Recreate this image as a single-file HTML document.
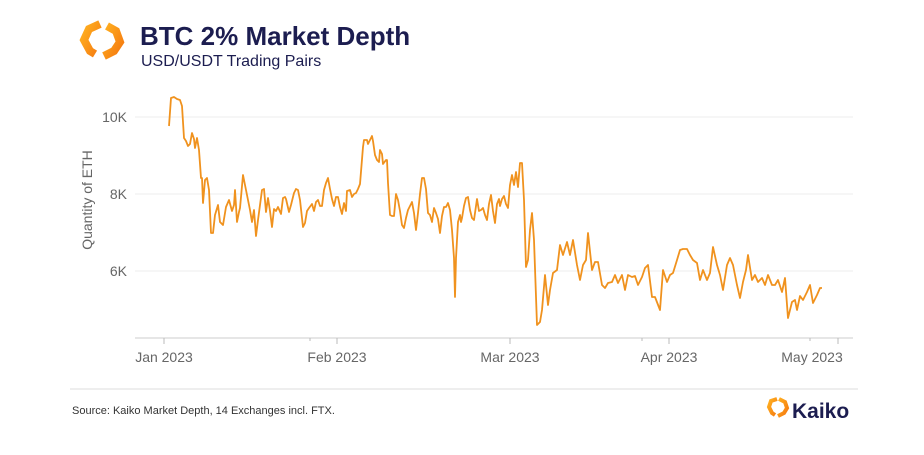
<!DOCTYPE html>
<html><head><meta charset="utf-8"><style>
body{margin:0;background:#fff;width:924px;height:450px;overflow:hidden;font-family:"Liberation Sans",sans-serif}
</style></head><body>
<svg width="924" height="450" xmlns="http://www.w3.org/2000/svg" font-family="Liberation Sans, sans-serif">
<defs><linearGradient id="og" x1="0" y1="0" x2="1" y2="1"><stop offset="0" stop-color="#ffb020"/><stop offset="1" stop-color="#f57a10"/></linearGradient></defs>
<g fill="none" stroke="url(#og)" stroke-width="8" stroke-linejoin="miter">
<polyline points="100,24 89,29 84,40 90,51 95,54"/>
<polyline points="107,26 116,31 120,42 114,51 104,56"/>
</g>
<text x="140" y="45" font-size="26" font-weight="bold" fill="#1c1d50">BTC 2% Market Depth</text>
<text x="141" y="66" font-size="16" fill="#1c1d50">USD/USDT Trading Pairs</text>
<g stroke="#eeeeee" stroke-width="1">
<line x1="135" y1="117" x2="853" y2="117"/>
<line x1="135" y1="194" x2="853" y2="194"/>
<line x1="135" y1="271" x2="853" y2="271"/>
</g>
<line x1="135" y1="338" x2="853" y2="338" stroke="#ccc"/>
<g stroke="#bbb">
<line x1="164" y1="338" x2="164" y2="344"/><line x1="337" y1="338" x2="337" y2="344"/>
<line x1="510" y1="338" x2="510" y2="344"/><line x1="669" y1="338" x2="669" y2="344"/>
<line x1="838" y1="338" x2="838" y2="344"/>
<line x1="310" y1="338" x2="310" y2="341"/><line x1="642" y1="338" x2="642" y2="341"/><line x1="810" y1="338" x2="810" y2="341"/>
</g>
<g font-size="14" fill="#666" text-anchor="end">
<text x="127" y="122">10K</text><text x="127" y="199">8K</text><text x="127" y="276">6K</text>
</g>
<text transform="translate(92,200) rotate(-90)" font-size="14" fill="#666" text-anchor="middle">Quantity of ETH</text>
<g font-size="14" fill="#666" text-anchor="middle">
<text x="164" y="362">Jan 2023</text><text x="337" y="362">Feb 2023</text><text x="510" y="362">Mar 2023</text>
<text x="669" y="362">Apr 2023</text><text x="812" y="362">May 2023</text>
</g>
<polyline fill="none" stroke="#f0921e" stroke-width="1.8" stroke-linejoin="round" points="169,126 171,98 174,97 177,99 180,100 182,106 184,138 186,141 188,146 190,144 192,133 194,139 195,148 197,138 199,150 201,178 202,178 203,203 205,180 207,178 209,190 211,233 213,233 215,215 218,205 220,222 223,225 226,207 229,200 232,211 234,205 235,190 237,222 239,212 240,208 243,175 245,185 247,195 250,210 252,222 254,210 256,236 258,220 260,205 262,190 264,189 266,212 268,198 270,211 272,227 274,209 276,211 278,207 281,214 283,198 285,197 286,199 289,212 291,205 294,193 296,189 298,190 300,200 303,227 305,223 307,211 309,208 312,204 314,211 316,202 318,200 320,206 322,206 324,190 326,183 328,178 330,189 332,199 334,206 336,197 338,197 340,207 342,214 344,203 346,211 347,191 350,190 352,197 354,194 356,193 358,189 360,184 363,147 364,140 366,140 367,140 368,144 370,140 372,136 373,141 375,155 377,160 379,162 380,150 382,154 383,164 386,160 387,160 388,183 390,215 392,216 394,216 396,194 398,200 400,211 402,225 404,228 406,218 408,210 410,206 412,202 414,213 416,230 418,213 420,194 422,178 424,178 426,189 428,213 430,215 432,222 434,208 436,213 438,219 440,233 442,216 444,207 446,207 448,203 450,210 452,230 454,258 455,297 456,258 458,222 460,215 461,222 462,218 464,206 466,198 468,197 470,210 472,218 474,220 477,199 479,211 481,210 483,208 485,215 487,220 489,204 491,195 493,211 495,223 497,204 499,199 500,206 502,199 504,196 506,204 508,208 510,185 512,175 514,185 516,172 518,187 520,163 522,163 524,200 526,267 528,260 530,230 532,213 534,240 537,325 540,322 542,310 545,275 548,305 550,290 553,273 557,270 560,245 563,255 567,242 570,255 573,240 577,265 580,280 583,265 586,260 588,233 592,270 595,262 598,262 602,285 605,288 608,283 612,282 615,275 618,283 622,275 625,290 628,275 632,277 635,276 638,285 642,277 645,268 648,265 652,297 655,297 660,310 663,270 667,282 670,275 673,273 677,260 680,250 683,249 687,249 690,255 693,260 697,263 700,280 703,270 707,280 710,273 713,247 717,265 720,275 723,290 727,265 730,258 733,265 737,285 740,298 743,282 746,270 748,255 752,280 755,275 758,282 762,278 765,285 768,275 772,285 775,285 778,280 782,292 785,278 788,318 792,302 795,300 797,310 800,296 803,300 807,292 810,285 813,303 817,295 820,288 822,288"/>
<line x1="70" y1="389" x2="858" y2="389" stroke="#ddd"/>
<text x="72" y="414" font-size="11" fill="#333">Source: Kaiko Market Depth, 14 Exchanges incl. FTX.</text>
<g fill="none" stroke="url(#og)" stroke-width="4" transform="translate(767,397)">
<polyline points="10,2 4,4 2,10 5,16 8,18"/>
<polyline points="12,2 18,5 20,11 17,16 11,19"/>
</g>
<text x="792" y="418" font-size="21" font-weight="bold" fill="#1c1d50">Kaiko</text>
</svg>
</body></html>
